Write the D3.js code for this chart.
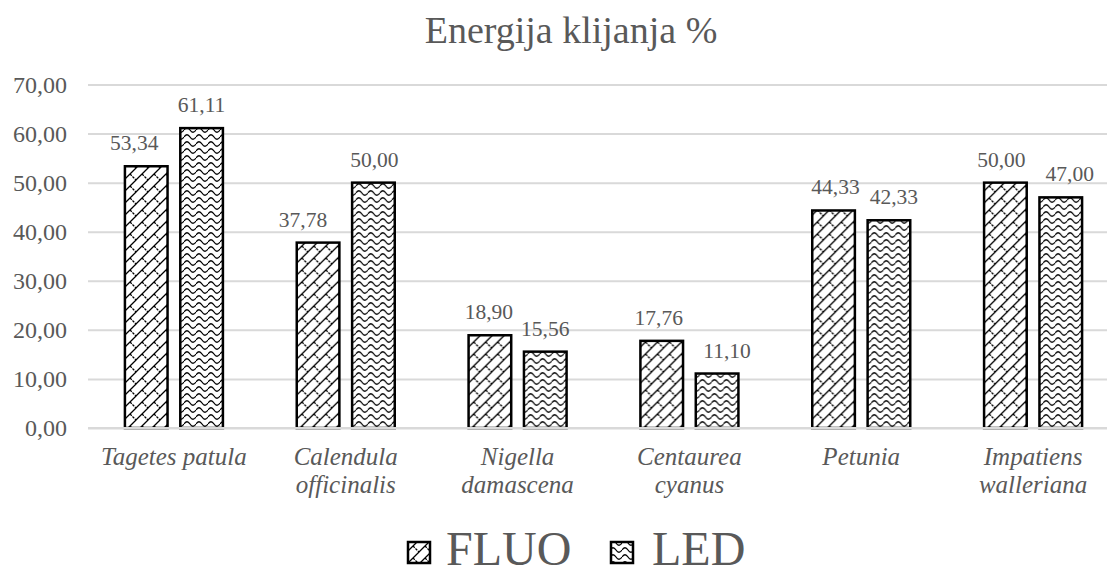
<!DOCTYPE html>
<html>
<head>
<meta charset="utf-8">
<script src="https://cdn.jsdelivr.net/npm/d3@7/dist/d3.min.js"></script>
</head>
<body style="margin:0">
<svg id="chart" width="1107" height="570" style="display:block;background:#fff"></svg>
<script>
// Germination energy (%) by species under two light sources
const species = [
  ["Tagetes patula"],
  ["Calendula", "officinalis"],
  ["Nigella", "damascena"],
  ["Centaurea", "cyanus"],
  ["Petunia"],
  ["Impatiens", "walleriana"]
];
const seriesNames = ["FLUO", "LED"];
const fluoValues = [53.34, 37.78, 18.90, 17.76, 44.33, 50.00];
const ledValues  = [61.11, 50.00, 15.56, 11.10, 42.33, 47.00];
const yTicks = [0, 10, 20, 30, 40, 50, 60, 70];
const titleText = "Energija klijanja %";

// horizontal nudges for value labels so neighbours do not collide
const labelNudge = {
  FLUO: [-12, -15, -1, -3, 2, -4],
  LED:  [0, 1, 0, 10, 5, 9]
};

const svg = d3.select("#chart");
const fmt = v => d3.format(".2f")(v).replace(".", ",");
const textColor = "#595959";
const serif = d => `"Liberation Serif", monospace`;

const plot = { left: 88, right: 1119, top: 84.5, bottom: 428 };

const x0 = d3.scaleBand()
  .domain(d3.range(species.length))
  .range([plot.left, plot.right])
  .paddingInner(0).paddingOuter(0);

const x1 = d3.scaleBand()
  .domain(seriesNames)
  .range([x0.bandwidth() / 2 - 49, x0.bandwidth() / 2 + 49])
  .paddingInner(0.23)
  .paddingOuter(0.0);

const y = d3.scaleLinear().domain([0, 70]).range([plot.bottom, plot.top]);

// fill patterns: diagonal brick for FLUO, wave for LED
const defs = svg.append("defs");
const brick = defs.append("pattern")
  .attr("id", "pat-fluo").attr("patternUnits", "userSpaceOnUse")
  .attr("width", 12).attr("height", 12);
brick.append("rect").attr("width", 12).attr("height", 12).attr("fill", "#fff");
brick.append("path")
  .attr("d", "M-1,13 L13,-1 M-7,7 L7,-7 M5,19 L19,5")
  .attr("stroke", "#000").attr("stroke-width", 1.3).attr("fill", "none");
brick.append("path")
  .attr("d", "M6,6 L12,12")
  .attr("stroke", "#000").attr("stroke-width", 1.2)
  .attr("stroke-dasharray", "2.5,1").attr("fill", "none");

const wave = defs.append("pattern")
  .attr("id", "pat-led").attr("patternUnits", "userSpaceOnUse")
  .attr("width", 12).attr("height", 7);
wave.append("rect").attr("width", 12).attr("height", 7).attr("fill", "#fff");
wave.append("path")
  .attr("d", "M0,4 C2,1 4,1 6,4 C8,7 10,7 12,4")
  .attr("stroke", "#000").attr("stroke-width", 1.3).attr("fill", "none");

const fills = { FLUO: "url(#pat-fluo)", LED: "url(#pat-led)" };

// title
svg.append("text")
  .attr("x", 571).attr("y", 43)
  .attr("text-anchor", "middle")
  .attr("font-size", 38)
  .style("font-family", serif)
  .attr("fill", textColor)
  .text(titleText);

// gridlines + y axis labels
const yAxis = d3.axisLeft(y)
  .tickValues(yTicks)
  .tickSize(-(plot.right - plot.left))
  .tickPadding(21)
  .tickFormat(fmt);

const gy = svg.append("g")
  .attr("transform", `translate(${plot.left},0)`)
  .call(yAxis);
gy.select(".domain").remove();
gy.selectAll(".tick line").attr("stroke", "#d9d9d9").attr("stroke-width", 2);
gy.selectAll(".tick text")
  .attr("font-size", 24)
  .style("font-family", serif)
  .attr("fill", textColor);

// bars
const groups = svg.append("g").selectAll("g")
  .data(species.map((s, i) => ({ i, FLUO: fluoValues[i], LED: ledValues[i] })))
  .join("g")
  .attr("transform", d => `translate(${x0(d.i)},0)`);

groups.selectAll("rect")
  .data(d => seriesNames.map(k => ({ key: k, value: d[k], i: d.i })))
  .join("rect")
  .attr("x", d => x1(d.key))
  .attr("y", d => y(d.value))
  .attr("width", x1.bandwidth())
  .attr("height", d => y(0) - y(d.value))
  .attr("fill", d => fills[d.key])
  .attr("stroke", "#000")
  .attr("stroke-width", 2.5);

groups.selectAll("text.val")
  .data(d => seriesNames.map(k => ({ key: k, value: d[k], i: d.i })))
  .join("text")
  .attr("class", "val")
  .attr("x", d => x1(d.key) + x1.bandwidth() / 2 + labelNudge[d.key][d.i])
  .attr("y", d => y(d.value) - 16)
  .attr("text-anchor", "middle")
  .attr("font-size", 21.5)
  .style("font-family", serif)
  .attr("fill", textColor)
  .text(d => fmt(d.value));

// baseline
svg.append("line")
  .attr("x1", plot.left).attr("x2", plot.right)
  .attr("y1", y(0)).attr("y2", y(0))
  .attr("stroke", "#d9d9d9").attr("stroke-width", 2);

// category labels
const cat = svg.append("g").selectAll("text")
  .data(species)
  .join("text")
  .attr("x", (d, i) => x0(i) + x0.bandwidth() / 2)
  .attr("y", 465)
  .attr("text-anchor", "middle")
  .attr("font-size", 25)
  .attr("font-style", "italic")
  .style("font-family", serif)
  .attr("fill", textColor);
cat.selectAll("tspan")
  .data(d => d)
  .join("tspan")
  .attr("x", function () { return d3.select(this.parentNode).attr("x"); })
  .attr("dy", (d, j) => j === 0 ? 0 : 27.5)
  .text(d => d);

// legend
const legendX = [407, 610];
const legend = svg.append("g").selectAll("g")
  .data(seriesNames)
  .join("g")
  .attr("transform", (d, i) => `translate(${legendX[i]},0)`);
legend.append("rect")
  .attr("x", 1).attr("y", 542)
  .attr("width", 22).attr("height", 21)
  .attr("fill", d => fills[d])
  .attr("stroke", "#000").attr("stroke-width", 2.5);
legend.append("text")
  .attr("x", (d, i) => i === 0 ? 39 : 42)
  .attr("y", 565)
  .attr("font-size", 48)
  .style("font-family", serif)
  .attr("fill", textColor)
  .text(d => d);
</script>
</body>
</html>
